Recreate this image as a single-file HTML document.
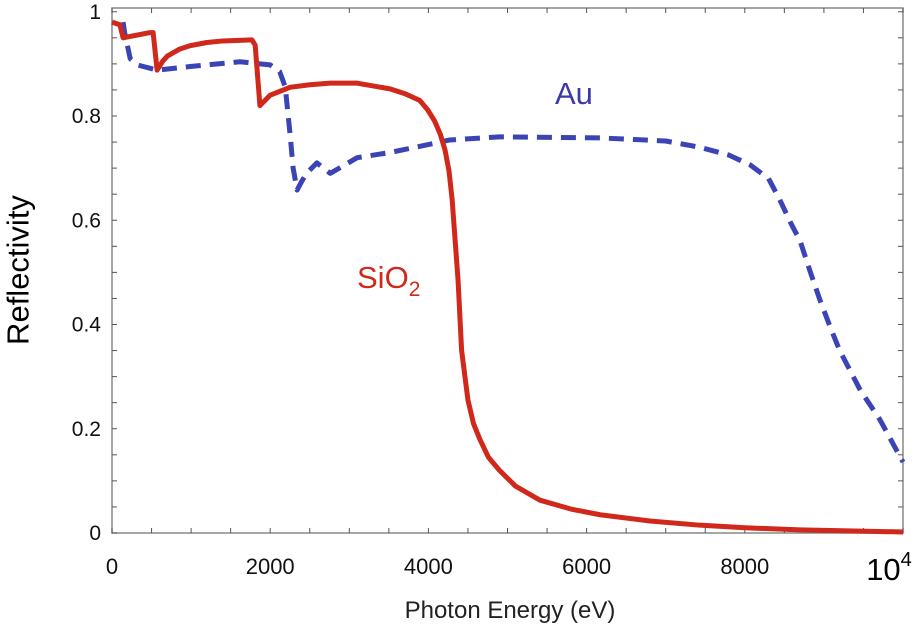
<!DOCTYPE html>
<html><head><meta charset="utf-8"><style>
body{margin:0;background:#fff;}
svg{display:block;font-family:"Liberation Sans",sans-serif;}
</style></head><body>
<svg id="chart" width="922" height="638">
<g id="axes"></g><g id="series"></g>
<text x="18" y="270" transform="rotate(-90 18 270)" text-anchor="middle" dominant-baseline="central" font-size="31" fill="#000">Reflectivity</text>
<text x="510" y="618" text-anchor="middle" font-size="24" fill="#222">Photon Energy (eV)</text>
<text x="555" y="104" font-size="31" fill="#3a3aa8">Au</text>
<text x="357" y="288" font-size="31" fill="#d0281a">SiO<tspan font-size="21" dy="8">2</tspan></text>
</svg>
<script>
const xTicks=[0,2000,4000,6000,8000];
const yTicks=[0,0.2,0.4,0.6,0.8,1];
const yTickLabels=["0","0.2","0.4","0.6","0.8","1"];
const sio2X=[0,100,140,480,520,570,640,700,850,990,1200,1400,1770,1810,1870,2000,2250,2500,2760,3100,3515,3700,3890,3990,4080,4150,4210,4260,4300,4375,4420,4500,4570,4650,4760,4900,5100,5410,5800,6170,6800,7430,8000,8700,10000];
const sio2Y=[.98,.975,.95,.96,.96,.888,.905,.915,.928,.935,.941,.944,.946,.936,.82,.84,.855,.86,.863,.863,.852,.843,.83,.812,.79,.765,.735,.695,.64,.485,.35,.255,.21,.18,.145,.12,.09,.063,.046,.035,.023,.015,.01,.006,.002];
const auX=[140,160,230,320,570,990,1620,2000,2120,2190,2250,2290,2340,2400,2460,2590,2760,3100,3515,3900,4270,4900,6170,7000,7430,7800,8070,8300,8440,8580,8700,8830,8950,9080,9200,9460,9710,10000];
const auY=[.98,.96,.91,.898,.888,.895,.904,.898,.885,.856,.767,.70,.658,.675,.69,.71,.69,.72,.73,.742,.754,.76,.758,.752,.74,.725,.706,.68,.64,.595,.56,.5,.447,.395,.35,.274,.217,.136];
const L=112,R=903,T=8,B=533;
const xs=v=>L+v/10000*(R-L);
const ys=v=>B-v*521.25;
const NS="http://www.w3.org/2000/svg";
function mk(t,a,p){const e=document.createElementNS(NS,t);for(const k in a)e.setAttribute(k,a[k]);p.appendChild(e);return e;}
const ax=document.getElementById('axes');
const fr=mk('rect',{x:L,y:T,width:R-L,height:B-T,fill:'none',stroke:'#888','stroke-width':1.5},ax);


for(let v=0;v<=10000;v+=500){
  mk('line',{x1:xs(v),x2:xs(v),y1:B,y2:B-5,stroke:'#555'},ax);
  mk('line',{x1:xs(v),x2:xs(v),y1:T,y2:T+5,stroke:'#555'},ax);
}
for(let i=0;i<=20;i++){const v=i*0.05;
  mk('line',{x1:L,x2:L+5,y1:ys(v),y2:ys(v),stroke:'#555'},ax);
  mk('line',{x1:R,x2:R-5,y1:ys(v),y2:ys(v),stroke:'#555'},ax);
}
xTicks.forEach(v=>{const t=mk('text',{x:xs(v),y:574,'text-anchor':'middle','font-size':22,fill:'#111'},ax);t.textContent=v;

});
const t4=mk('text',{x:R-14,y:580,'text-anchor':'middle','font-size':31,fill:'#000'},ax);t4.innerHTML='10<tspan font-size="20" dy="-14">4</tspan>';


yTicks.forEach((v,i)=>{const t=mk('text',{x:101,y:ys(v)+7,'text-anchor':'end','font-size':21,fill:'#111'},ax);t.textContent=yTickLabels[i];

});
const sg=document.getElementById('series');
function line(X,Y,a){return mk('polyline',Object.assign({points:X.map((x,i)=>xs(x)+','+ys(Y[i])).join(' '),fill:'none','stroke-linejoin':'round'},a),sg);}
const au=line(auX,auY,{stroke:'#3a44b4','stroke-width':5,'stroke-dasharray':'15 9'});


const si=line(sio2X,sio2Y,{stroke:'#d0281a','stroke-width':5});


</script>
</body></html>
